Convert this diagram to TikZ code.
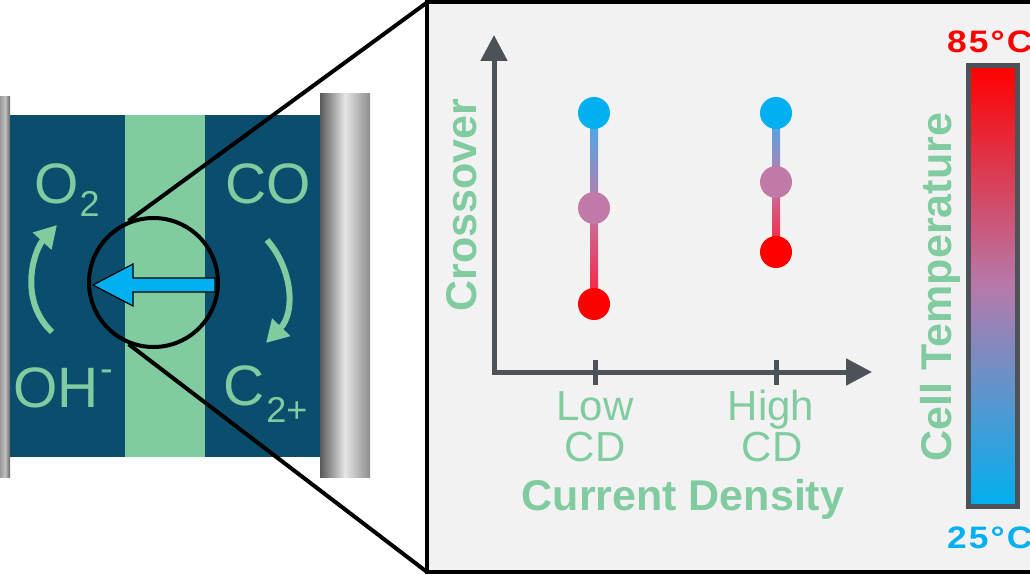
\documentclass[tikz,border=0pt]{standalone}
\usepackage{fontspec}
\setmainfont{Liberation Sans}
\usetikzlibrary{arrows.meta,calc}
\definecolor{cellblue}{HTML}{0B4D6C}
\definecolor{memgreen}{HTML}{80CBA0}
\definecolor{txtgreen}{HTML}{80CBA0}
\definecolor{arrowblue}{HTML}{00B0F0}
\definecolor{axisgrey}{HTML}{4D5158}
\definecolor{boxbg}{HTML}{F2F2F2}
\definecolor{hotred}{HTML}{FF0000}
\definecolor{midpurple}{HTML}{C07AA8}
\definecolor{barmid}{HTML}{B67AAA}
\definecolor{linetop}{HTML}{3FAEEE}
\definecolor{linebot}{HTML}{FF1A3A}
\newcommand{\widetemp}[1]{\scalebox{1.14}[1]{#1}}
\begin{document}
\begin{tikzpicture}[x=1pt,y=-1pt,
  bigtxt/.style={font=\fontsize{57}{60}\selectfont, text=txtgreen, inner sep=0, anchor=base west},
  boldlab/.style={font=\bfseries\fontsize{43}{48}\selectfont, text=txtgreen, inner sep=0, anchor=base},
  ticklab/.style={font=\fontsize{42}{42}\selectfont, text=txtgreen, inner sep=0, anchor=base},
  templab/.style={font=\bfseries\fontsize{31}{32}\selectfont\addfontfeature{LetterSpace=6}, inner sep=0, anchor=base west},
  plotdot/.style={circle, minimum size=32pt, inner sep=0},
  turnarrow/.style={line width=6pt, draw=txtgreen, -{Triangle[length=22pt,width=24pt]}},
  plotaxis/.style={line width=5pt, draw=axisgrey, line join=miter,
     {Triangle[length=26pt,width=26pt]}-{Triangle[length=26pt,width=26pt]}},
  tickmark/.style={line width=5pt, draw=axisgrey},
  lensline/.style={line width=4pt, draw=black}]
\useasboundingbox (0,0) rectangle (1030,580);
% ---- cell ----
\fill[cellblue] (10,115) rectangle (320,457);
\fill[memgreen] (125,115) rectangle (205,457);
\shade[left color=black!40, right color=black!60, middle color=black!25] (0,97) rectangle (10,477);
\shade[left color=black!65, right color=black!45, middle color=black!10] (320,94) rectangle (370,477);
% texts
\node[bigtxt] (o2) at (34,204) {O\kern1pt\raisebox{-13pt}{\fontsize{36}{36}\selectfont 2}};
\node[bigtxt] (co) at (225,204) {CO};
\node[bigtxt] (oh) at (13,407) {OH\kern2pt\raisebox{26pt}{\fontsize{38}{38}\selectfont -}};
\node[bigtxt] (c2) at (223,405) {C\kern2pt\raisebox{-17pt}{\fontsize{36}{36}\selectfont 2+}};
% curved arrows
\draw[turnarrow] (52,332) .. controls (18,300) and (34,250) .. (57,225);
\draw[turnarrow] (267,240) .. controls (292,268) and (296,312) .. (266,343);
% crossover arrow
\filldraw[fill=arrowblue, draw=black, line width=1.2pt] (93,285) -- (133,264) -- (133,278) -- (215,278) -- (215,292) -- (133,292) -- (133,306) -- cycle;
% lens
\node[circle, draw=black, line width=4pt, minimum size=129pt, inner sep=0] (lens) at (153.5,282.5) {};
% ---- zoom box ----
\coordinate (bt) at (427,2.5);
\coordinate (bb) at (427,572);
\draw[lensline] (bt) -- (lens.112);
\draw[lensline] (bb) -- (lens.248);
\draw[line width=4pt, fill=boxbg] (bt) rectangle (1045,572);
% axes
\coordinate (origin) at (494,372);
\coordinate (ytip) at (494,35);
\coordinate (xtip) at (872,372);
\draw[plotaxis] (ytip) -- (origin) -- (xtip);
\coordinate (tlo) at (595,372);
\coordinate (thi) at (776,372);
\draw[tickmark] ($(tlo)+(0,-12)$) -- ($(tlo)+(0,13)$);
\draw[tickmark] ($(thi)+(0,-12)$) -- ($(thi)+(0,13)$);
% dots
\coordinate (lbpos) at (594,113);
\coordinate (lrpos) at (594,304);
\coordinate (hbpos) at (776,113);
\coordinate (hrpos) at (776,252);
\shade[top color=linetop, bottom color=linebot, middle color=midpurple] ($(lbpos)+(-4,0)$) rectangle ($(lrpos)+(4,0)$);
\shade[top color=linetop, bottom color=linebot, middle color=midpurple] ($(hbpos)+(-4,0)$) rectangle ($(hrpos)+(4,0)$);
\node[plotdot, fill=arrowblue] (lb) at (lbpos) {};
\node[plotdot, fill=midpurple] (lm) at (594,208) {};
\node[plotdot, fill=hotred] (lr) at (lrpos) {};
\node[plotdot, fill=arrowblue] (hb) at (hbpos) {};
\node[plotdot, fill=midpurple] (hm) at (776,182) {};
\node[plotdot, fill=hotred] (hr) at (hrpos) {};
% labels
\node[ticklab] (low) at (595,420) {Low};
\node[ticklab] (lowcd) at (595,461) {CD};
\node[ticklab] (high) at (771,420) {High};
\node[ticklab] (highcd) at (772,461) {CD};
\node[boldlab] (xlab) at (683,510) {Current Density};
\node[boldlab, rotate=90] (ylab) at (476,205) {Crossover};
% colour bar
\node[draw=axisgrey, line width=5pt, minimum width=49pt, minimum height=441pt, inner sep=0,
      top color=hotred, bottom color=arrowblue, middle color=barmid] (cbar) at (993,286) {};
\node[boldlab, rotate=90] (clab) at (951,287) {Cell Temperature};
\node[templab, text=hotred] (hot) at (947,53) {\widetemp{85°C}};
\node[templab, text=arrowblue] (cold) at (947,548) {\widetemp{25°C}};
\end{tikzpicture}
\end{document}
